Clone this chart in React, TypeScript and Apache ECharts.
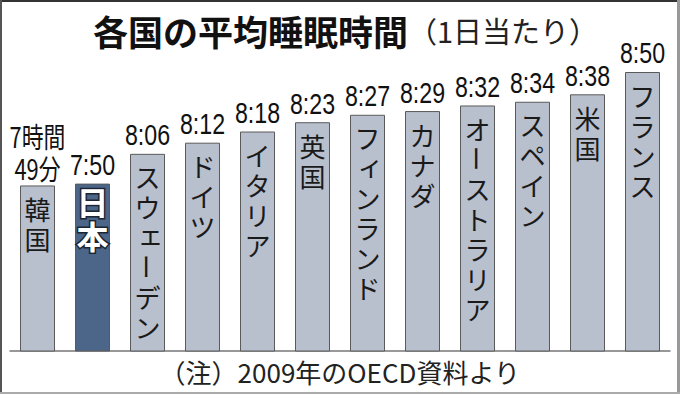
import React, { useEffect, useRef } from "react";
import * as echarts from "echarts";

const categories = ["韓国", "日本", "スウェーデン", "ドイツ", "イタリア", "英国", "フィンランド", "カナダ", "オーストラリア", "スペイン", "米国", "フランス"];
const minutes = [469, 470, 486, 492, 498, 503, 507, 509, 512, 514, 518, 530];
const valueLabels = ["7時間\n49分", "7:50", "8:06", "8:12", "8:18", "8:23", "8:27", "8:29", "8:32", "8:34", "8:38", "8:50"];
const highlightIndex = 1;

const titleMain = "各国の平均睡眠時間";
const titleSub = "（1日当たり）";
const footnote = "（注）2009年のOECD資料より";

const CJK = "'Noto Sans CJK JP', 'Noto Sans', sans-serif";
const SANS = "'Liberation Sans', Arial, 'Noto Sans CJK JP', sans-serif";

export default function App() {
  const ref = useRef<HTMLDivElement>(null);
  useEffect(() => {
    if (!ref.current) return;
    const chart = echarts.init(ref.current, undefined, { renderer: "svg" });
    const option: any = {
      animation: false,
      backgroundColor: "#ffffff",
      grid: { left: 10, right: 10, top: 72, bottom: 43 },
      title: {
        left: 88,
        top: 5,
        text: `{b|${titleMain}}{n|${titleSub}}`,
        textStyle: {
          rich: {
            b: { fontFamily: CJK, fontSize: 35, fontWeight: "bold", color: "#111", verticalAlign: "middle", lineHeight: 40 },
            n: { fontFamily: CJK, fontSize: 29, fontWeight: "normal", color: "#222", verticalAlign: "middle", lineHeight: 40 },
          },
        },
      },
      xAxis: {
        type: "category",
        data: categories,
        axisLine: { show: true, lineStyle: { color: "#777", width: 1.5 } },
        axisTick: { show: false },
        axisLabel: { show: false },
      },
      yAxis: {
        type: "value",
        min: 380,
        max: 530,
        show: false,
        splitLine: { show: false },
      },
      series: [
        {
          type: "bar",
          barWidth: 35,
          data: minutes.map((v, i) => ({
            value: v,
            itemStyle: {
              color: i === highlightIndex ? "#4c6689" : "#b8bfcd",
              borderColor: "#5a5a5a",
              borderWidth: 1,
            },
          })),
          z: 2,
        },
        {
          type: "custom",
          clip: false,
          z: 5,
          data: minutes.map((v, i) => [i, v]),
          renderItem: (params: any, api: any) => {
            const idx = api.value(0);
            const val = api.value(1);
            const pt = api.coord([idx, val]);
            const x = pt[0];
            const top = pt[1];
            const name = categories[params.dataIndex];
            const isHi = params.dataIndex === highlightIndex;
            const children: any[] = [];
            const lbl = valueLabels[params.dataIndex];
            const lines = lbl.split("\n");
            lines.forEach((ln, li) => {
              const hasCjk = /[^\x00-\x7f]/.test(ln);
              children.push({
                type: "text",
                x,
                y: top - 4 - (lines.length - 1 - li) * 32,
                scaleX: hasCjk ? 0.78 : 0.8,
                style: {
                  text: ln,
                  font: hasCjk ? `28px ${CJK}` : `29px ${SANS}`,
                  fill: "#111",
                  align: "center",
                  verticalAlign: "bottom",
                },
              });
            });
            const chars = Array.from(name);
            const pitch = isHi ? 34 : 30;
            const off = isHi ? 17 : 23;
            chars.forEach((ch, ci) => {
              const small = "ァィゥェォッャュョ".includes(ch);
              children.push({
                type: "text",
                x: x + (small ? 3 : 0),
                y: top + off + ci * pitch - (small ? 3 : 0),
                rotation: ch === "ー" ? -Math.PI / 2 : 0,
                style: isHi
                  ? {
                      text: ch,
                      font: `bold 32px ${CJK}`,
                      fill: "#ffffff",
                      stroke: "#1b2533",
                      lineWidth: 3,
                      align: "center",
                      verticalAlign: "middle",
                    }
                  : {
                      text: ch,
                      font: `26px ${CJK}`,
                      fill: "#1a1a1a",
                      align: "center",
                      verticalAlign: "middle",
                    },
              });
            });
            return { type: "group", children };
          },
        },
      ],
      graphic: [
        {
          type: "text",
          left: "center",
          top: 358,
          style: { text: footnote, font: `26px ${CJK}`, fill: "#222" },
        },
        { type: "line", shape: { x1: 0, y1: 1, x2: 680, y2: 1 }, style: { stroke: "#333", lineWidth: 2 } },
        { type: "line", shape: { x1: 1, y1: 0, x2: 1, y2: 394 }, style: { stroke: "#555", lineWidth: 2 } },
        { type: "line", shape: { x1: 678.5, y1: 0, x2: 678.5, y2: 394 }, style: { stroke: "#999", lineWidth: 3 } },
        { type: "line", shape: { x1: 0, y1: 393, x2: 680, y2: 393 }, style: { stroke: "#aaa", lineWidth: 2 } },
      ],
    };
    chart.setOption(option);
    return () => chart.dispose();
  }, []);
  return <div ref={ref} style={{ width: 680, height: 394, position: "fixed", left: 0, top: 0 }} />;
}
